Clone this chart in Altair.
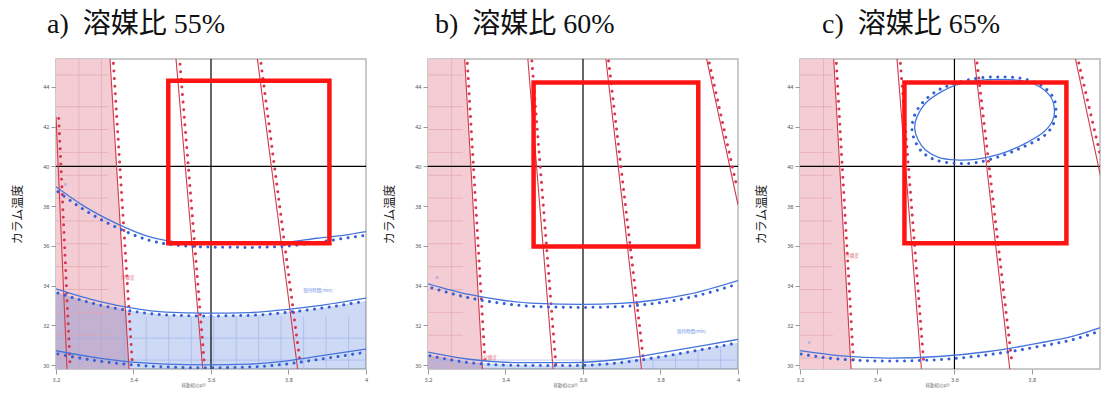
import altair as alt
import pandas as pd

X_DOMAIN = [3.2, 4.0]
X_DOMAIN_C = [3.2, 3.977]
Y_DOMAIN = [29.8, 45.4]
X_TICKS = [3.2, 3.4, 3.6, 3.8, 4.0]
X_TICKS_C = [3.2, 3.4, 3.6, 3.8]
Y_TICKS = [30, 32, 34, 36, 38, 40, 42, 44]

TITLES = ["a)\u00a0\u00a0溶媒比\u00a055%", "b)\u00a0\u00a0溶媒比\u00a060%", "c)\u00a0\u00a0溶媒比\u00a065%"]
TITLE_DX = [-9, 7, 22]
Y_TITLE = "カラム温度"
X_TITLE = "移動相のpH"
BLUE_LABEL = "保持時間(min)"
RED_LABEL = "分離度"
CROSS_X = [3.6]
CROSS_Y = [40]

# ---------------- panel a ----------------
A_RED_X1 = [3.2, 3.3393, 3.5097, 3.7198]
A_RED_Y1 = [42.5, 45.4, 45.4, 45.4]
A_RED_X2 = [3.2285, 3.3886, 3.5787, 3.8236]
A_RED_Y2 = [29.8, 29.8, 29.8, 29.8]
A_RDOT_X1 = [3.207, 3.348, 3.520, 3.729]
A_RDOT_Y1 = [42.41, 45.18, 45.14, 45.18]
A_RDOT_X2 = [3.236, 3.397, 3.583, 3.830]
A_RDOT_Y2 = [30.07, 30.07, 30.0, 30.1]

A_B1_X = [3.2, 3.267, 3.354, 3.44, 3.527, 3.613, 3.70, 3.786, 3.873, 3.959, 4.0]
A_B1_Y = [38.97, 38.06, 37.14, 36.46, 36.16, 36.10, 36.10, 36.16, 36.38, 36.58, 36.71]
A_B1D_X = [3.205, 3.267, 3.354, 3.44, 3.527, 3.613, 3.70, 3.786, 3.873, 3.959, 3.995]
A_B1D_Y = [38.72, 37.88, 36.95, 36.28, 36.0, 35.93, 35.92, 35.97, 36.17, 36.42, 36.52]
A_B2_X = [3.2, 3.311, 3.397, 3.484, 3.588, 3.70, 3.786, 3.873, 4.0]
A_B2_Y = [33.83, 33.20, 32.86, 32.66, 32.61, 32.64, 32.78, 32.98, 33.37]
A_B2D_X = [3.205, 3.311, 3.397, 3.484, 3.588, 3.70, 3.786, 3.873, 3.995]
A_B2D_Y = [33.62, 33.03, 32.71, 32.52, 32.47, 32.50, 32.63, 32.83, 33.20]
A_B3_X = [3.2, 3.311, 3.397, 3.484, 3.588, 3.70, 3.786, 3.873, 4.0]
A_B3_Y = [30.72, 30.35, 30.15, 30.05, 30.01, 30.05, 30.18, 30.43, 30.80]
A_B3D_X = [3.205, 3.311, 3.397, 3.484, 3.588, 3.70, 3.786, 3.873, 3.995]
A_B3D_Y = [30.55, 30.20, 30.01, 29.90, 29.86, 29.90, 30.03, 30.27, 30.63]

A_PINK_Y = [29.8, 45.4]
A_PINK_X2 = [3.3886, 3.3393]
A_AREA_X = [3.2, 3.311, 3.397, 3.484, 3.588, 3.70, 3.786, 3.873, 4.0]
A_AREA_TOP = [33.65, 33.05, 32.72, 32.52, 32.47, 32.50, 32.63, 32.83, 33.22]
A_PG_V = [3.259, 3.317]
A_PG_H = [44.6, 43.0, 41.85, 40.7, 39.55, 38.4, 37.25, 36.1, 34.95, 33.8, 32.65, 31.5, 30.35]
A_PG_RIGHT = 3.335
A_BG_V = [3.259, 3.317, 3.375, 3.433, 3.491, 3.549, 3.607, 3.665, 3.723, 3.781, 3.839, 3.897, 3.955]
A_BG_TOP = [32.45] * 13
A_BG_H = [31.35, 30.25]
A_BOX = [3.4898, 36.13, 3.9056, 44.30]
A_LAB_X = [3.876, 3.385, 3.224]
A_LAB_Y = [33.73, 34.4, 39.06]
A_LAB_T = [BLUE_LABEL, RED_LABEL, "×"]
A_LAB_C = ["#6f92e4", "#e07688", "#4d7be0"]

# ---------------- panel b ----------------
B_RED_X1 = [3.2947, 3.4577, 3.659, 3.919]
B_RED_Y1 = [45.4, 45.4, 45.4, 45.4]
B_RED_X2 = [3.3405, 3.5227, 3.751, 4.0]
B_RED_Y2 = [29.8, 29.8, 29.8, 38.06]
B_RDOT_X1 = [3.3015, 3.468, 3.666, 3.926]
B_RDOT_Y1 = [45.18, 45.3, 45.3, 45.2]
B_RDOT_X2 = [3.3476, 3.530, 3.757, 3.997]
B_RDOT_Y2 = [30.0, 30.0, 30.1, 38.97]

B_B1_X = [3.2, 3.306, 3.393, 3.48, 3.601, 3.696, 3.783, 3.87, 4.0]
B_B1_Y = [34.09, 33.55, 33.26, 33.10, 33.05, 33.10, 33.26, 33.55, 34.25]
B_B1D_X = [3.21, 3.306, 3.393, 3.48, 3.601, 3.696, 3.783, 3.87, 3.99]
B_B1D_Y = [33.88, 33.38, 33.10, 32.94, 32.90, 32.94, 33.10, 33.38, 34.02]
B_B2_X = [3.2, 3.306, 3.436, 3.566, 3.696, 3.826, 3.913, 4.0]
B_B2_Y = [30.65, 30.29, 30.12, 30.12, 30.29, 30.70, 30.99, 31.29]
B_B2D_X = [3.205, 3.306, 3.436, 3.566, 3.696, 3.826, 3.913, 3.995]
B_B2D_Y = [30.47, 30.12, 29.98, 29.97, 30.12, 30.50, 30.80, 31.10]

B_PINK_Y = [29.8, 45.4]
B_PINK_X2 = [3.3405, 3.2947]
B_AREA_X = [3.2, 3.306, 3.436, 3.566, 3.696, 3.826, 3.913, 4.0]
B_AREA_TOP = [30.50, 30.14, 29.99, 29.98, 30.14, 30.52, 30.82, 31.12]
B_PG_V = [3.261]
B_PG_H = [44.6, 43.0, 41.85, 40.7, 39.55, 38.4, 37.25, 36.1, 34.95, 33.8, 32.65, 31.5, 30.35]
B_PG_RIGHT = 3.29
B_BG_V = [3.781, 3.839, 3.897, 3.955]
B_BG_TOP = [30.33, 30.55, 30.75, 30.95]
B_BG_H = [30.25]
B_BOX = [3.4725, 35.97, 3.8975, 44.22]
B_LAB_X = [3.88, 3.36, 3.223]
B_LAB_Y = [31.64, 30.36, 34.38]
B_LAB_T = [BLUE_LABEL, RED_LABEL, "×"]
B_LAB_C = ["#6f92e4", "#e07688", "#4d7be0"]

# ---------------- panel c ----------------
C_RED_X1 = [3.2873, 3.4513, 3.6518, 3.9135]
C_RED_Y1 = [45.4, 45.4, 45.4, 45.4]
C_RED_X2 = [3.3322, 3.5145, 3.7433, 3.995]
C_RED_Y2 = [29.8, 29.8, 29.8, 38.0]
C_RDOT_X1 = [3.294, 3.460, 3.6585, 3.922]
C_RDOT_Y1 = [45.18, 45.18, 45.2, 45.2]
C_RDOT_X2 = [3.339, 3.5205, 3.749, 3.997]
C_RDOT_Y2 = [30.0, 30.1, 30.1, 38.97]

C_B1_X = [3.2, 3.30, 3.43, 3.559, 3.689, 3.818, 3.905, 4.0]
C_B1_Y = [30.72, 30.47, 30.35, 30.43, 30.68, 31.10, 31.44, 32.03]
C_B1D_X = [3.203, 3.30, 3.43, 3.559, 3.689, 3.818, 3.905, 3.997]
C_B1D_Y = [30.55, 30.30, 30.20, 30.27, 30.52, 30.93, 31.27, 31.85]

C_ELL_X = [3.497, 3.503, 3.525, 3.559, 3.603, 3.654, 3.715, 3.775, 3.818, 3.849,
           3.859, 3.853, 3.827, 3.775, 3.715, 3.654, 3.603, 3.559, 3.525, 3.506]
C_ELL_Y = [41.91, 42.49, 43.17, 43.67, 44.09, 44.30, 44.37, 44.30, 44.03, 43.50,
           42.83, 42.24, 41.66, 41.07, 40.60, 40.35, 40.32, 40.45, 40.82, 41.32]
C_ELLD_X = [3.490, 3.497, 3.516, 3.551, 3.594, 3.654, 3.715, 3.775, 3.823, 3.855,
            3.863, 3.857, 3.831, 3.775, 3.715, 3.654, 3.603, 3.551, 3.516, 3.497]
C_ELLD_Y = [41.91, 42.58, 43.17, 43.75, 44.12, 44.42, 44.50, 44.42, 44.09, 43.50,
            42.83, 42.16, 41.52, 40.95, 40.48, 40.18, 40.15, 40.32, 40.73, 41.32]

C_PINK_Y = [29.8, 45.4]
C_PINK_X2 = [3.3322, 3.2873]
C_PG_V = [3.261]
C_PG_H = [44.6, 43.0, 41.85, 40.7, 39.55, 38.4, 37.25, 36.1, 34.95, 33.8, 32.65, 31.5, 30.35]
C_PG_RIGHT = 3.285
C_BOX = [3.4705, 36.13, 3.890, 44.22]
C_LAB_X = [3.335, 3.223]
C_LAB_Y = [35.5, 31.1]
C_LAB_T = [RED_LABEL, "×"]
C_LAB_C = ["#e07688", "#4d7be0"]

# ---------------- styles ----------------
RED_LINE = "#d03a4b"
RED_DOT = "#d8354f"
BLUE_LINE = "#4674dd"
BLUE_DOT = "#325fd4"
PINK_FILL = "#f3cdd3"
BLUE_FILL = "#0541cd"
BLUE_FILL_OPACITY = 0.2
PINK_GRID = "#e2a0ac"
BLUE_GRID = "#9db3ea"
BOX_RED = "#ff1414"


def make_xy(xdom, xticks):
    def X(field="x"):
        return alt.X(f"{field}:Q", scale=alt.Scale(domain=xdom, nice=False, zero=False),
                     axis=alt.Axis(values=xticks, format="~g", title=X_TITLE))

    def Y(field="y"):
        return alt.Y(f"{field}:Q", scale=alt.Scale(domain=Y_DOMAIN, nice=False, zero=False),
                     axis=alt.Axis(values=Y_TICKS, format="d", title=Y_TITLE))
    return X, Y


def segs(x1, y1, x2, y2):
    return pd.DataFrame({"x1": x1, "y1": y1, "x2": x2, "y2": y2})


def curves(list_of_xy):
    rows = []
    for i, (xs, ys) in enumerate(list_of_xy):
        for k, (xv, yv) in enumerate(zip(xs, ys)):
            rows.append({"id": i, "k": k, "x": xv, "y": yv})
    return pd.DataFrame(rows)


def panel(idx, red, rdots, blues, bdots, pink_x2, pink_y, area, pgv, pgh, pg_right,
          bgv, bgh, box, labels, ellipse=None, xdom=X_DOMAIN, xticks=X_TICKS, width=310):
    X, Y = make_xy(xdom, xticks)
    layers = []
    pdf = pd.DataFrame({"y": pink_y, "x": [X_DOMAIN[0]] * len(pink_y), "x2": pink_x2})
    layers.append(alt.Chart(pdf).mark_area(orient="horizontal", color=PINK_FILL, clip=True)
                  .encode(y=Y(), x=X(), x2="x2"))
    if area is not None:
        ax, atop = area
        adf = pd.DataFrame({"x": ax, "top": atop, "base": [Y_DOMAIN[0]] * len(ax)})
        layers.append(alt.Chart(adf).mark_area(color=BLUE_FILL, opacity=BLUE_FILL_OPACITY,
                                               clip=True)
                      .encode(x=X(), y=Y("top"), y2="base"))
    layers.append(alt.Chart(pd.DataFrame({"x": pgv})).mark_rule(
        color=PINK_GRID, strokeWidth=0.8, opacity=0.8, clip=True).encode(x=X()))
    layers.append(alt.Chart(pd.DataFrame({"y": pgh, "x": [X_DOMAIN[0]] * len(pgh),
                                          "x2": [pg_right] * len(pgh)}))
                  .mark_rule(color=PINK_GRID, strokeWidth=0.8, opacity=0.8, clip=True)
                  .encode(y=Y(), x=X(), x2="x2"))
    if bgv is not None:
        bx, btop = bgv
        layers.append(alt.Chart(pd.DataFrame({"x": bx, "top": btop,
                                              "base": [Y_DOMAIN[0]] * len(bx)}))
                      .mark_rule(color=BLUE_GRID, strokeWidth=0.8, opacity=0.8, clip=True)
                      .encode(x=X(), y=Y("top"), y2="base"))
    if bgh is not None:
        layers.append(alt.Chart(pd.DataFrame({"y": bgh})).mark_rule(
            color=BLUE_GRID, strokeWidth=0.8, opacity=0.8, clip=True).encode(y=Y()))
    layers.append(alt.Chart(pd.DataFrame({"x": CROSS_X})).mark_rule(
        color="black", strokeWidth=1.2, clip=True).encode(x=X()))
    layers.append(alt.Chart(pd.DataFrame({"y": CROSS_Y})).mark_rule(
        color="black", strokeWidth=1.2, clip=True).encode(y=Y()))
    layers.append(alt.Chart(segs(*red)).mark_rule(color=RED_LINE, strokeWidth=1.1, clip=True)
                  .encode(x=X("x1"), y=Y("y1"), x2="x2", y2="y2"))
    layers.append(alt.Chart(segs(*rdots)).mark_rule(
        color=RED_DOT, strokeWidth=3, strokeCap="round", strokeDash=[0.01, 7.6], clip=True)
        .encode(x=X("x1"), y=Y("y1"), x2="x2", y2="y2"))
    layers.append(alt.Chart(curves(blues)).mark_line(
        color=BLUE_LINE, strokeWidth=1.3, interpolate="monotone", clip=True)
        .encode(x=X(), y=Y(), detail="id:N", order="k:Q"))
    layers.append(alt.Chart(curves(bdots)).mark_line(
        color=BLUE_DOT, strokeWidth=3, strokeCap="round", strokeDash=[0.01, 7.4],
        interpolate="monotone", clip=True)
        .encode(x=X(), y=Y(), detail="id:N", order="k:Q"))
    if ellipse is not None:
        (ex, ey), (edx, edy) = ellipse
        layers.append(alt.Chart(curves([(ex, ey)])).mark_line(
            color=BLUE_LINE, strokeWidth=1.3, interpolate="cardinal-closed", clip=True)
            .encode(x=X(), y=Y(), order="k:Q"))
        layers.append(alt.Chart(curves([(edx, edy)])).mark_line(
            color=BLUE_DOT, strokeWidth=3, strokeCap="round", strokeDash=[0.01, 7.4],
            interpolate="cardinal-closed", clip=True)
            .encode(x=X(), y=Y(), order="k:Q"))
    bdf = pd.DataFrame({"x1": [box[0]], "y1": [box[1]], "x2": [box[2]], "y2": [box[3]]})
    layers.append(alt.Chart(bdf).mark_rect(filled=False, stroke=BOX_RED, strokeWidth=4.5,
                                           strokeJoin="miter", clip=True)
                  .encode(x=X("x1"), y=Y("y1"), x2="x2", y2="y2"))
    lx, ly, lt, lc = labels
    ldf = pd.DataFrame({"x": lx, "y": ly, "t": lt, "c": lc})
    layers.append(alt.Chart(ldf).mark_text(fontSize=4.5, font="Noto Sans CJK JP", clip=True)
                  .encode(x=X(), y=Y(), text="t:N", color=alt.Color("c:N", scale=None)))

    return alt.layer(*layers).properties(
        width=width, height=310,
        title=alt.TitleParams(TITLES[idx], anchor="start", frame="group", dx=TITLE_DX[idx],
                              fontSize=28, font="Liberation Serif, Noto Sans CJK JP",
                              fontWeight="normal", color="#111", offset=20))


pa = panel(0, (A_RED_X1, A_RED_Y1, A_RED_X2, A_RED_Y2),
           (A_RDOT_X1, A_RDOT_Y1, A_RDOT_X2, A_RDOT_Y2),
           [(A_B1_X, A_B1_Y), (A_B2_X, A_B2_Y), (A_B3_X, A_B3_Y)],
           [(A_B1D_X, A_B1D_Y), (A_B2D_X, A_B2D_Y), (A_B3D_X, A_B3D_Y)],
           A_PINK_X2, A_PINK_Y, (A_AREA_X, A_AREA_TOP), A_PG_V, A_PG_H, A_PG_RIGHT,
           (A_BG_V, A_BG_TOP), A_BG_H, A_BOX, (A_LAB_X, A_LAB_Y, A_LAB_T, A_LAB_C))

pb = panel(1, (B_RED_X1, B_RED_Y1, B_RED_X2, B_RED_Y2),
           (B_RDOT_X1, B_RDOT_Y1, B_RDOT_X2, B_RDOT_Y2),
           [(B_B1_X, B_B1_Y), (B_B2_X, B_B2_Y)],
           [(B_B1D_X, B_B1D_Y), (B_B2D_X, B_B2D_Y)],
           B_PINK_X2, B_PINK_Y, (B_AREA_X, B_AREA_TOP), B_PG_V, B_PG_H, B_PG_RIGHT,
           (B_BG_V, B_BG_TOP), B_BG_H, B_BOX, (B_LAB_X, B_LAB_Y, B_LAB_T, B_LAB_C))

pc = panel(2, (C_RED_X1, C_RED_Y1, C_RED_X2, C_RED_Y2),
           (C_RDOT_X1, C_RDOT_Y1, C_RDOT_X2, C_RDOT_Y2),
           [(C_B1_X, C_B1_Y)],
           [(C_B1D_X, C_B1D_Y)],
           C_PINK_X2, C_PINK_Y, None, C_PG_V, C_PG_H, C_PG_RIGHT,
           None, None, C_BOX, (C_LAB_X, C_LAB_Y, C_LAB_T, C_LAB_C),
           ellipse=((C_ELL_X, C_ELL_Y), (C_ELLD_X, C_ELLD_Y)),
           xdom=X_DOMAIN_C, xticks=X_TICKS_C, width=300)

chart = (
    alt.hconcat(pa, pb, pc, spacing=13)
    .properties(padding={"left": 2, "top": 2, "right": 0, "bottom": 0}, background="white")
    .configure_view(stroke="#b8b8b8", strokeWidth=1.5)
    .configure_axis(domain=False, grid=False, tickColor="#9a9a9a", tickSize=5, tickWidth=1,
                    labelFontSize=5.5, labelColor="#555", labelFont="Noto Sans",
                    labelPadding=2, labelFlush=False)
    .configure_axisX(titleFont="Noto Sans CJK JP", titleFontSize=4.5, titleFontWeight="normal",
                     titleColor="#777", titleX=137, titleY=16.5, titleBaseline="middle",
                     labelPadding=3.5)
    .configure_axisY(titleFont="Noto Sans CJK JP", titleFontSize=12, titleFontWeight="normal",
                     titleColor="#222", titlePadding=18)
)

chart.save("out.html", embed_options={"renderer": "svg", "actions": False})
